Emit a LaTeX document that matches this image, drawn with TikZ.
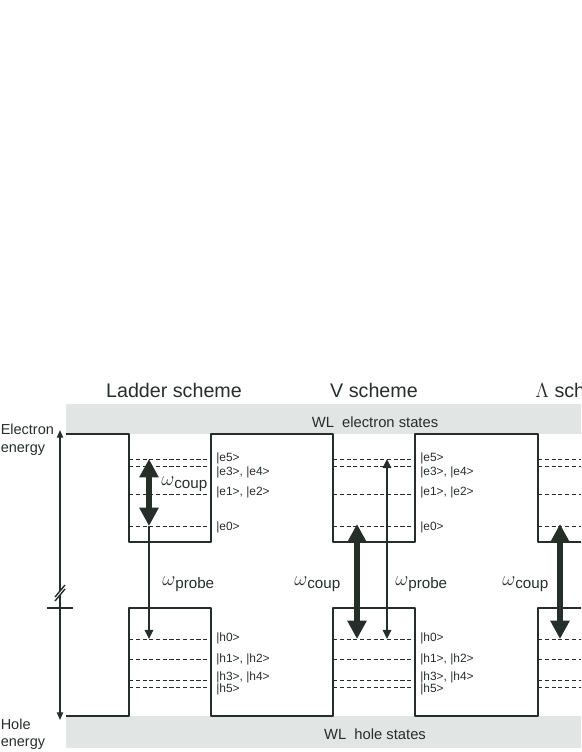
\documentclass[tikz,border=0pt]{standalone}
\usepackage{fontspec}
\setmainfont{Liberation Sans}
\usetikzlibrary{arrows.meta,positioning}
\definecolor{welldark}{RGB}{38,46,42}
\definecolor{wlgray}{RGB}{225,229,227}
\newcommand{\wsub}[1]{{\fontsize{14.5}{14}\selectfont$\omega$}\raisebox{-0.45ex}{#1}}

\tikzset{
  bandline/.style={welldark, line width=2pt, line join=round},
  levelline/.style={welldark, line width=0.7pt, dash pattern=on 3pt off 1.8pt},
  levellbl/.style={anchor=base west, inner sep=0pt, font=\fontsize{8.5}{10}\selectfont, text=welldark},
  axislbl/.style={anchor=base west, inner sep=0pt, font=\fontsize{10.3}{12}\selectfont, text=welldark},
  wllbl/.style={anchor=base, inner sep=0pt, font=\fontsize{10.5}{12}\selectfont, text=welldark},
  titlelbl/.style={anchor=base, inner sep=0pt, font=\fontsize{14}{16}\selectfont, text=welldark},
  freqlbl/.style={anchor=base west, inner sep=0pt, font=\fontsize{10.8}{12}\selectfont, text=welldark},
  axisline/.style={welldark, line width=1pt},
  couparrow/.style={welldark, line width=4.2pt,
    {Triangle[width=13pt,length=13pt]}-{Triangle[width=13pt,length=13pt]}},
  probearrow/.style={welldark, line width=1.2pt},
}

\begin{document}
\begin{tikzpicture}[x=0.025cm, y=-0.025cm]
    \useasboundingbox (0,0) rectangle (581,752);
    \clip (0,0) rectangle (581,752);

    % WL bands
    \fill[wlgray] (66,404) rectangle (600,434);
    \fill[wlgray] (66,716) rectangle (600,748);
    \node[wllbl] (wlElec) at (375,427) {WL~~electron states};
    \node[wllbl] (wlHole) at (375,739) {WL~~hole states};

    % Titles
    \node[titlelbl] (tLadder) at (174,397) {Ladder scheme};
    \node[titlelbl] (tV) at (374,397) {V scheme};
    \node[titlelbl, anchor=base west] (tLambda) at (535,397) {$\Lambda$ scheme};

    % Energy axis
    \node[axislbl] (elecA) at (0.5,434) {Electron};
    \node[axislbl] (elecB) at (0.5,452) {energy};
    \node[axislbl] (holeA) at (0.5,729) {Hole};
    \node[axislbl] (holeB) at (0.5,746) {energy};
    \coordinate (axTop) at (60,430);
    \coordinate (axBot) at (60,720);
    \draw[axisline, {Triangle[width=4.5pt,length=5.5pt]}-{Triangle[width=4.5pt,length=5.5pt]}]
        (axBot) -- (axTop);
    \fill[white] (55,597) -- (65,585) -- (65,589) -- (55,601) -- cycle;
    \draw[axisline] (55,597) -- (65,585);
    \draw[axisline] (55,601) -- (65,589);
    \draw[axisline] (47,608) -- (73,608);

    % Confined levels
    \foreach \o in {0,204,409} {
        \foreach \y in {459,466,494,526,639,659,680,687} {
            \draw[levelline] (129+\o,\y) -- (211+\o,\y);
        }
    }

    % Well edges
    \draw[bandline] (66,434) -- (129,434) -- (129,542) -- (211,542) -- (211,434)
        -- (333,434) -- (333,542) -- (415,542) -- (415,434)
        -- (538,434) -- (538,542) -- (620,542);
    \draw[bandline] (66,716) -- (129,716) -- (129,608) -- (211,608) -- (211,716)
        -- (333,716) -- (333,608) -- (415,608) -- (415,716)
        -- (538,716) -- (538,608) -- (620,608);

    % Level labels
    \foreach \o/\s in {0/L,204/V} {
        \foreach \b/\t/\n in {461/{|e5>}/e5, 475/{|e3>, |e4>}/e34,
                              495/{|e1>, |e2>}/e12, 530/{|e0>}/e0,
                              641/{|h0>}/h0, 662/{|h1>, |h2>}/h12,
                              680/{|h3>, |h4>}/h34, 692/{|h5>}/h5} {
            \node[levellbl] (\s-\n) at (216+\o,\b) {\t};
        }
    }

    % Ladder scheme
    \coordinate (lcTop) at (149,459);
    \coordinate (lcBot) at (149,526);
    \coordinate (lpBot) at (149,639);
    \draw[probearrow, -{Triangle[width=6pt,length=6.5pt]}] (lcBot) -- (lpBot);
    \draw[couparrow] (lcTop) -- (lcBot);
    \node[freqlbl] (lCoup) at (161,485) {\wsub{coup}};
    \node[freqlbl] (lProbe) at (162,585) {\wsub{probe}};

    % V scheme
    \coordinate (vcTop) at (357,524);
    \coordinate (vcBot) at (357,639);
    \coordinate (vpTop) at (387,459);
    \coordinate (vpBot) at (387,639);
    \draw[couparrow] (vcTop) -- (vcBot);
    \draw[probearrow, {Triangle[width=6pt,length=6.5pt]}-{Triangle[width=6pt,length=6.5pt]}]
        (vpTop) -- (vpBot);
    \node[freqlbl] (vCoup) at (294,585) {\wsub{coup}};
    \node[freqlbl] (vProbe) at (395,585) {\wsub{probe}};

    % Lambda scheme
    \coordinate (acTop) at (560,524);
    \coordinate (acBot) at (560,639);
    \draw[couparrow] (acTop) -- (acBot);
    \node[freqlbl] (aCoup) at (502,585) {\wsub{coup}};
\end{tikzpicture}
\end{document}
